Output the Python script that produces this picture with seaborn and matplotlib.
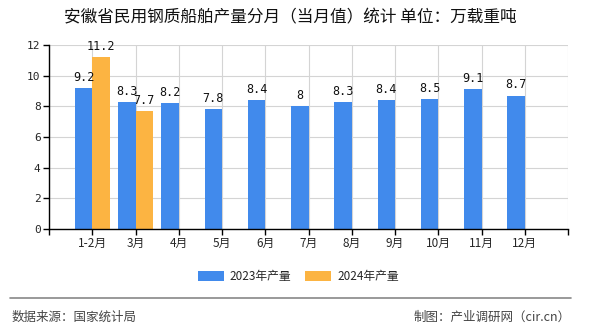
import matplotlib
matplotlib.use("Agg")
import matplotlib.pyplot as plt
import seaborn as sns
import pandas as pd
import numpy as np

categories = ["1-2月", "3月", "4月", "5月", "6月", "7月", "8月", "9月", "10月", "11月", "12月"]
values_2023 = [9.2, 8.3, 8.2, 7.8, 8.4, 8, 8.3, 8.4, 8.5, 9.1, 8.7]
values_2024 = [11.2, 7.7, None, None, None, None, None, None, None, None, None]
series_names = ["2023年产量", "2024年产量"]
colors = ["#418AEC", "#FCB442"]
y_ticks = [0, 2, 4, 6, 8, 10, 12]

sns.set_theme(style="white")
plt.rcParams["font.family"] = ["Noto Sans CJK SC", "DejaVu Sans"]

rows = []
for c, a, b in zip(categories, values_2023, values_2024):
    rows.append({"月份": c, "系列": series_names[0], "值": a})
    rows.append({"月份": c, "系列": series_names[1], "值": b})
df = pd.DataFrame(rows)

fig = plt.figure(figsize=(5.9, 3.3), dpi=100)
ax = fig.add_axes([49 / 590, 1 - 229 / 330, (568 - 49) / 590, (229 - 45) / 330])

sns.barplot(data=df.dropna(), x="月份", y="值", hue="系列", order=categories,
            hue_order=series_names, palette=colors, width=0.8, ax=ax,
            legend=True, saturation=1, linewidth=0, edgecolor="none")

for cont in ax.containers:
    ax.bar_label(cont, fmt="%g", padding=3, fontsize=8.5,
                 family=["DejaVu Sans Mono"], color="#111111")

ax.set_xlim(-1, len(categories))
ax.set_ylim(0, 12)
ax.set_yticks(y_ticks)
ax.set_yticklabels([str(t) for t in y_ticks], family=["DejaVu Sans Mono"], fontsize=8)
ax.set_xticks(range(-1, len(categories) + 1))
ax.set_xticklabels([""] + categories + [""], fontsize=8.5)
ax.set_xlabel("")
ax.set_ylabel("")
ax.grid(True, color="#d4d4d4", linewidth=0.8)
ax.set_axisbelow(True)
for s in ["top", "right"]:
    ax.spines[s].set_visible(False)
for s in ["left", "bottom"]:
    ax.spines[s].set_color("black")
    ax.spines[s].set_linewidth(1.0)
ax.tick_params(axis="both", which="both", length=4, width=1, color="black",
               direction="out", bottom=True, left=True, pad=2)

leg = ax.legend(loc="upper center", bbox_to_anchor=(0.48, -0.165), ncol=2, frameon=False,
                fontsize=8.5, handlelength=2.2, handleheight=0.9, columnspacing=1.2,
                handletextpad=0.5)

fig.text(0.5 - 5 / 590, 1 - 18 / 330, "安徽省民用钢质船舶产量分月（当月值）统计 单位：万载重吨",
         ha="center", va="center", fontsize=12, color="#111111")
fig.add_artist(plt.Line2D([10 / 590, 571 / 590], [1 - 298 / 330, 1 - 298 / 330],
                          color="#888888", linewidth=1.2))
fig.text(12 / 590, 1 - 317 / 330, "数据来源：国家统计局", ha="left", va="center",
         fontsize=9, color="#444444")
fig.text(571 / 590, 1 - 317 / 330, "制图：产业调研网（cir.cn）", ha="right", va="center",
         fontsize=9, color="#444444")

fig.savefig("out.png", dpi=100)
